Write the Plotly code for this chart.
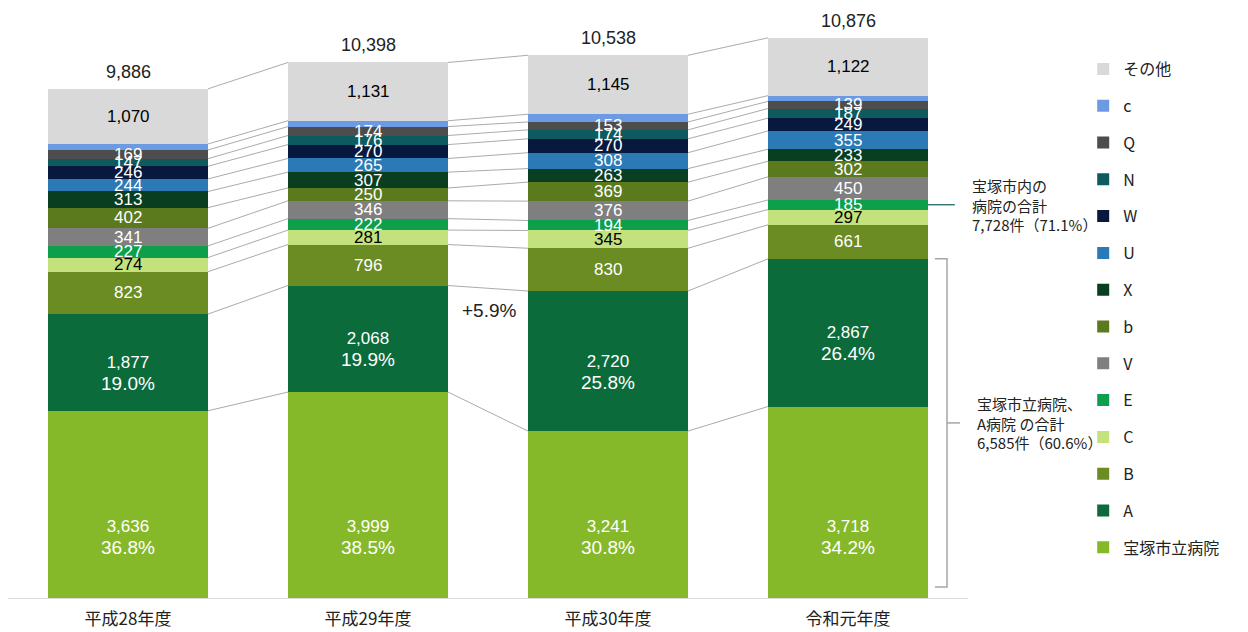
import plotly.graph_objects as go

years = ["平成28年度", "平成29年度", "平成30年度", "令和元年度"]
series = ["宝塚市立病院", "A", "B", "C", "E", "V", "b", "X", "U", "W", "N", "Q", "c", "その他"]
colors = ["#86B92A", "#0B6B3A", "#6A8C22", "#C3E27E", "#0E9F4C", "#7F7F7F", "#5B7A1D",
          "#0A3E20", "#2B7AB6", "#08193F", "#0D5B5E", "#4D4D4D", "#6C9BE4", "#D9D9D9"]
text_colors = ["white", "white", "white", "black", "white", "white", "white",
               "white", "white", "white", "white", "white", None, "black"]

v_h28 = [3636, 1877, 823, 274, 227, 341, 402, 313, 244, 246, 147, 169, 117, 1070]
v_h29 = [3999, 2068, 796, 281, 222, 346, 250, 307, 265, 270, 176, 174, 113, 1131]
v_h30 = [3241, 2720, 830, 345, 194, 376, 369, 263, 308, 270, 174, 153, 150, 1145]
v_r1 = [3718, 2867, 661, 297, 185, 450, 302, 233, 355, 249, 187, 139, 111, 1122]
values = [v_h28, v_h29, v_h30, v_r1]

pct_hosp = ["36.8%", "38.5%", "30.8%", "34.2%"]
pct_a = ["19.0%", "19.9%", "25.8%", "26.4%"]
growth_label = "+5.9%"
share_city = "71.1%"
share_two = "60.6%"

FONT = "Liberation Sans, Arial, Noto Sans CJK JP, sans-serif"
JFONT = "Noto Sans CJK JP, Liberation Sans, sans-serif"
xs = list(range(len(years)))
half = 1 / 3

fig = go.Figure()
for si, name in enumerate(series):
    fig.add_trace(go.Bar(
        x=xs, y=[values[k][si] for k in xs], name=name,
        marker=dict(color=colors[si], line=dict(width=0)),
        width=2 * half, legendgroup=name, legendrank=100 - si, hoverinfo="skip"))

# connector lines between bars
cx, cy = [], []
for k in range(len(years) - 1):
    cum_a, cum_b = 0, 0
    for si in range(len(series)):
        cum_a += values[k][si]
        cum_b += values[k + 1][si]
        cx += [k + half, k + 1 - half, None]
        cy += [cum_a, cum_b, None]
fig.add_trace(go.Scatter(x=cx, y=cy, mode="lines", line=dict(color="#ABABAB", width=1),
                         showlegend=False, hoverinfo="skip"))

annotations = []
for k in xs:
    cum = 0
    for si in range(len(series)):
        v = values[k][si]
        center = cum + v / 2
        cum += v
        if text_colors[si] is None:
            continue
        if si == 0:
            annotations.append(dict(x=k, y=0, yshift=61, text=f"{v:,}<br><span style='font-size:19px'>{pct_hosp[k]}</span>",
                                    showarrow=False, font=dict(size=17, color="white", family=FONT)))
        elif si == 1:
            annotations.append(dict(x=k, y=center, yshift=-11, text=f"{v:,}<br><span style='font-size:19px'>{pct_a[k]}</span>",
                                    showarrow=False, font=dict(size=17, color="white", family=FONT)))
        else:
            annotations.append(dict(x=k, y=center, text=f"{v:,}", showarrow=False,
                                    font=dict(size=17, color=text_colors[si], family=FONT)))
    annotations.append(dict(x=k, y=cum, yshift=17, text=f"{cum:,}", showarrow=False,
                            font=dict(size=18, color="#222222", family=FONT)))

# growth label
annotations.append(dict(x=1.508, y=5573, text=growth_label, showarrow=False,
                        font=dict(size=19, color="#222222", family=FONT)))

r1 = values[3]
city_total = sum(r1[:5])
e_center = sum(r1[:4]) + r1[4] / 2
two_total = sum(r1[:2])
bracket_bottom = 214
bracket_mid = (two_total + bracket_bottom) / 2
annotations.append(dict(x=1.002, xref="paper", y=e_center, xanchor="left", yanchor="middle", align="left",
                        text=f"宝塚市内の<br>病院の合計<br>{city_total:,}件（{share_city}）",
                        showarrow=False, font=dict(size=15, color="#222222", family=JFONT)))
annotations.append(dict(x=1.007, xref="paper", y=bracket_mid, xanchor="left", yanchor="middle", align="left",
                        text=f"宝塚市立病院、<br>A病院 の合計<br>{two_total:,}件（{share_two}）",
                        showarrow=False, font=dict(size=15, color="#222222", family=JFONT)))

shapes = [
    dict(type="line", xref="x", yref="y", x0=3 + half, x1=3.445, y0=e_center, y1=e_center,
         line=dict(color="#0D5B5E", width=1.2)),
    dict(type="path", xref="x", yref="y",
         path=f"M 3.362,{two_total} L 3.4125,{two_total} L 3.4125,{bracket_bottom} L 3.362,{bracket_bottom}",
         line=dict(color="#A6A6A6", width=1.5)),
    dict(type="line", xref="x", yref="y", x0=3.4125, x1=3.467, y0=bracket_mid,
         y1=bracket_mid, line=dict(color="#A6A6A6", width=1.5)),
]

fig.update_layout(
    width=1248, height=632,
    margin=dict(l=0, r=288, t=2, b=42),
    barmode="stack",
    plot_bgcolor="white", paper_bgcolor="white",
    xaxis=dict(range=[-0.5, 3.5], tickvals=xs, ticktext=years, showgrid=False, zeroline=False,
               showline=True, linecolor="#D9D9D9", linewidth=1, ticks="outside", ticklen=6,
               tickcolor="rgba(0,0,0,0)", tickfont=dict(size=17, color="#222222", family=JFONT)),
    yaxis=dict(range=[0, 11417], visible=False),
    legend=dict(x=1.12, y=0.9286, xanchor="left", yanchor="top", traceorder="grouped",
                tracegroupgap=13, font=dict(size=16, color="#222222", family=JFONT),
                bgcolor="rgba(0,0,0,0)"),
    annotations=annotations, shapes=shapes, showlegend=True,
)

fig.write_html("out.html")
